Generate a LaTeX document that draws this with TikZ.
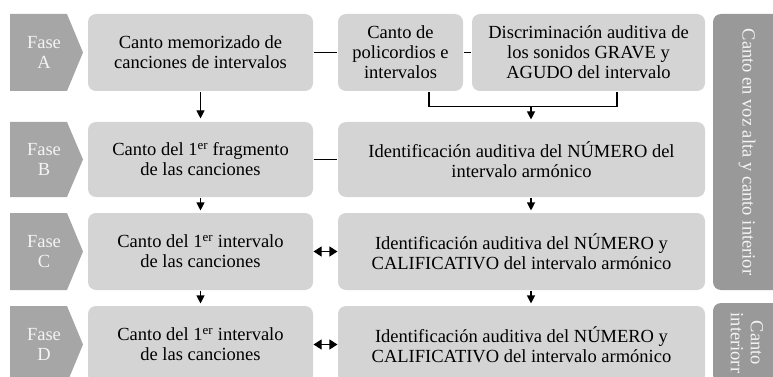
\documentclass[tikz,border=0pt]{standalone}
\usepackage{fontspec}
\setmainfont{Liberation Serif}
\usetikzlibrary{arrows.meta,calc}
\definecolor{faseGris}{HTML}{A6A6A6}
\definecolor{cajaGris}{HTML}{D4D4D4}
\definecolor{ladoGris}{HTML}{999999}
\definecolor{textoClaro}{HTML}{F4F4F4}
\tikzstyle{every node}=[font=\fontsize{18.5}{20}\selectfont]
\tikzstyle{fase}=[text=textoClaro,align=center,inner sep=0pt]
\tikzstyle{caja}=[rounded corners=8pt,fill=cajaGris,align=center,inner sep=0pt,minimum height=77pt]
\tikzstyle{lado}=[rounded corners=8pt,fill=ladoGris,text=textoClaro,align=center,inner sep=0pt,rotate=-90]
\tikzstyle{flecha}=[-{Triangle[length=8pt,width=8pt]},shorten >=2pt]
\tikzstyle{dflecha}=[{Triangle[length=8pt,width=10pt]}-{Triangle[length=8pt,width=10pt]}]

\begin{document}
\begin{tikzpicture}[x=1pt,y=-1pt,line width=1.1pt]
  \useasboundingbox (0,0) rectangle (773,377);
  \clip (0,0) rectangle (773,377);
  % flechas de fase
  \foreach \l/\y/\h in {A/52.5/77,B/159.5/75,C/251.5/77,D/344.5/77}{
    \fill[faseGris] (10,\y-\h/2) -- (67,\y-\h/2) -- (83,\y) -- (67,\y+\h/2) -- (10,\y+\h/2) -- cycle;
    \node[fase] (fase\l) at (44,\y) {Fase\\\l};
  }
  % fase A
  \node[caja,minimum width=225pt] (memo) at (200.5,52.5) {Canto memorizado de\\canciones de intervalos};
  \node[caja,minimum width=125pt] (poli) at (400.5,52.5) {Canto de\\policordios e\\intervalos};
  \node[caja,minimum width=233pt] (discr) at (588.5,52.5) {Discriminación auditiva de\\los sonidos GRAVE y\\AGUDO del intervalo};
  % fase B
  \node[caja,minimum width=225pt,minimum height=75pt] (frag) at (200.5,159.5) {Canto del 1\textsuperscript{er} fragmento\\de las canciones};
  \node[caja,minimum width=367pt,minimum height=75pt] (numero) at (521.5,159.5) {Identificación auditiva del NÚMERO del\\intervalo armónico};
  % fase C
  \node[caja,minimum width=225pt] (intC) at (200.5,251.5) {Canto del 1\textsuperscript{er} intervalo\\de las canciones};
  \node[caja,minimum width=367pt] (califC) at (521.5,251.5) {Identificación auditiva del NÚMERO y\\CALIFICATIVO del intervalo armónico};
  % fase D
  \node[caja,minimum width=225pt] (intD) at (200.5,344.5) {Canto del 1\textsuperscript{er} intervalo\\de las canciones};
  \node[caja,minimum width=367pt] (califD) at (521.5,344.5) {Identificación auditiva del NÚMERO y\\CALIFICATIVO del intervalo armónico};
  % columna derecha
  \node[lado,minimum width=276pt,minimum height=68pt] (vozAlta) at (747,152) {Canto en voz alta y canto interior};
  \node[lado,minimum width=80pt,minimum height=68pt] (interior) at (747,343) {Canto\\interiorr};

  \draw (memo) -- (poli);
  \draw (poli) -- (discr);
  \draw (frag) -- (numero);
  \coordinate (union) at ($(numero.north)+(9.5,-15)$);
  \draw ($(poli.south)+(28.5,0)$) |- (union) -| ($(discr.south)+(28.5,0)$);
  \draw[flecha] (union) -- ($(numero.north)+(9.5,0)$);
  \draw[flecha,shorten >=3pt] (memo) -- (frag);
  \draw[flecha] (frag) -- (intC);
  \draw[flecha] (intC) -- (intD);
  \draw[flecha] ($(numero.south)+(9.5,0)$) -- ($(califC.north)+(9.5,0)$);
  \draw[flecha] ($(califC.south)+(9.5,0)$) -- ($(califD.north)+(9.5,0)$);
  \draw[dflecha] (intC) -- (califC);
  \draw[dflecha] (intD) -- (califD);
\end{tikzpicture}
\end{document}
